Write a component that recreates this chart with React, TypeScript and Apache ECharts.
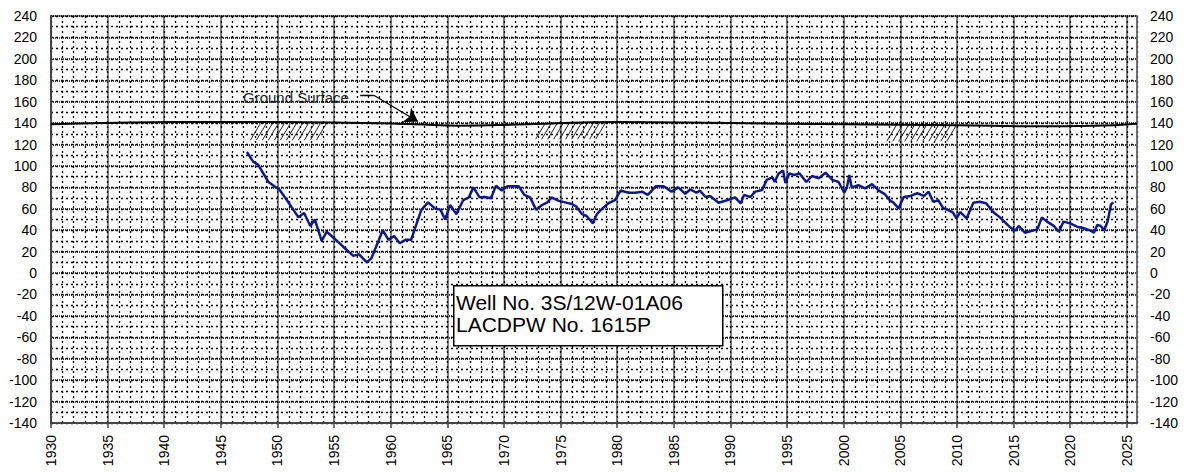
import React, { useEffect, useRef } from "react";
import * as echarts from "echarts";

const years: number[] = [
  1947.3, 1947.85, 1948.3, 1949.2, 1950.2, 1950.9, 1951.85, 1952.35, 1952.9, 1953.3,
  1953.9, 1954.35, 1954.9, 1955.8, 1956.7, 1957.2, 1957.9, 1958.3, 1959.3, 1959.8,
  1960.3, 1960.8, 1961.3, 1961.8, 1962.7, 1963.3, 1963.9, 1964.4, 1964.8, 1965.25,
  1965.8, 1966.4, 1966.9, 1967.3, 1967.85, 1968.3, 1968.85, 1969.3, 1969.8, 1970.3,
  1971.3, 1971.8, 1972.3, 1972.85, 1973.35, 1973.8, 1974.2, 1974.8, 1975.4, 1976.0,
  1976.4, 1976.9, 1977.3, 1977.85, 1978.2, 1978.7, 1979.2, 1979.8, 1980.3, 1981.0,
  1981.6, 1982.2, 1982.7, 1983.4, 1984.1, 1984.8, 1985.4, 1986.0, 1986.45, 1987.0,
  1987.3, 1987.8, 1988.2, 1988.95, 1989.7, 1990.4, 1990.9, 1991.2, 1991.75, 1992.2,
  1992.8, 1993.2, 1993.7, 1993.9, 1994.25, 1994.65, 1994.85, 1995.2, 1995.6, 1996.1,
  1996.7, 1997.2, 1997.8, 1998.4, 1999.0, 1999.55, 2000.05, 2000.3, 2000.5, 2000.7,
  2001.3, 2001.9, 2002.5, 2003.1, 2003.6, 2004.1, 2004.4, 2004.85, 2005.3, 2005.9,
  2006.5, 2007.1, 2007.5, 2007.9, 2008.35, 2008.8, 2009.2, 2009.65, 2009.95, 2010.3,
  2010.85, 2011.45, 2012.05, 2012.6, 2013.2, 2013.8, 2014.7, 2015.15, 2015.45, 2016.0,
  2016.8, 2017.1, 2017.5, 2017.95, 2018.55, 2019.0, 2019.4, 2020.0, 2020.6, 2021.2,
  2021.8, 2022.1, 2022.4, 2022.7, 2023.0, 2023.3, 2023.6, 2023.8,
];

const levels: number[] = [
  113, 104, 101, 85, 77.5, 67, 52, 56, 44, 50,
  30, 38.6, 33.4, 24.6, 16, 17.5, 10, 14, 40, 31,
  34.6, 27.8, 31, 31, 59, 66, 60.4, 59, 50, 63.5,
  55, 68, 70.7, 80, 70.7, 71, 69.8, 81.6, 77, 81,
  81, 73, 70.7, 59, 63.5, 65.7, 70.7, 67.6, 66, 64.5,
  62, 55, 53.3, 46.4, 55, 60.4, 65, 68, 77, 75,
  75, 76, 73, 81, 81, 76, 80, 74, 78, 75,
  77, 71, 72, 65.7, 68, 70.7, 65, 73, 71, 76,
  77.5, 87, 89.4, 85, 93, 95.6, 84, 93, 91.5, 93,
  85, 90.6, 88.5, 93.7, 87, 85, 75, 80.7, 91.5, 80,
  82, 79, 83, 77, 74, 67.6, 65.7, 60.4, 71, 72,
  74.5, 72, 76, 66.6, 68, 60.4, 59, 56.4, 51, 57,
  51, 65.7, 66.6, 65, 57, 52, 42.7, 39.6, 44, 37.7,
  40, 40.8, 52, 48, 44, 38.6, 48, 46.4, 43.3, 41.8,
  39.6, 37.7, 45, 44, 40, 48, 64, 66,
];

const groundYears: number[] = [1930, 1937, 1945, 1955, 1962, 1966, 1972, 1980, 1990, 2000, 2010, 2017, 2022, 2025.9];
const groundLevels: number[] = [139, 140.5, 141, 140.5, 139, 137.5, 139, 141, 140, 139, 138, 137, 137.5, 139.5];

// hatch areas: [startYear, endYear, topValue, bottomValue]
const hatchAreas: number[][] = [
  [1947.6, 1954.4, 139.5, 124],
  [1972.8, 1979.1, 140.5, 125],
  [2003.8, 2010.0, 138.5, 123],
];

// leader of the "Ground Surface" note: flat part, then arrow segment
const leaderFlat: number[][] = [[1957.3, 166], [1958.5, 166]];
const leaderArrow: number[][] = [[1958.5, 166], [1962.4, 141.5]];

const yMin = -140;
const yMax = 240;
const xMin = 1930;
const xMax = 2025.9;

const App: React.FC = () => {
  const ref = useRef<HTMLDivElement>(null);

  useEffect(() => {
    if (!ref.current) return;
    const chart = echarts.init(ref.current, undefined, { renderer: "svg" });
    const font = "Arial, 'Liberation Sans', sans-serif";

    const hatchRender = (params: any, api: any) => {
      const x0 = api.value(0);
      const x1 = api.value(1);
      const top = api.value(2);
      const bot = api.value(3);
      const pTopL = api.coord([x0, top]);
      const pBotL = api.coord([x0, bot]);
      const pR = api.coord([x1, top]);
      const h = pBotL[1] - pTopL[1];
      const dx = h * 0.6;
      const children: any[] = [];
      for (let x = pTopL[0]; x + dx <= pR[0]; x += 6) {
        children.push({
          type: "line",
          shape: { x1: x, y1: pBotL[1], x2: x + dx, y2: pTopL[1] },
          style: { stroke: "#222", lineWidth: 1 },
        });
      }
      return { type: "group", children };
    };

    chart.setOption({
      animation: false,
      backgroundColor: "#fff",
      grid: {
        left: 51,
        right: 64,
        top: 16,
        bottom: 52,
        show: true,
        borderColor: "#777",
        borderWidth: 1.5,
        backgroundColor: "#fff",
        containLabel: false,
        outerBoundsMode: "none",
      },
      xAxis: [
        {
          type: "value",
          min: xMin,
          max: xMax,
          interval: 5,
          position: "bottom",
          axisLine: { show: true, onZero: false, lineStyle: { color: "#444", width: 2 } },
          axisTick: { show: true, length: 5, lineStyle: { color: "#444", width: 1.5 } },
          axisLabel: {
            rotate: 90,
            fontSize: 14,
            fontFamily: font,
            color: "#000",
            margin: 12,
            showMaxLabel: false,
            formatter: (v: number) => (Math.abs(v / 5 - Math.round(v / 5)) < 1e-6 ? String(Math.round(v)) : ""),
          },
          splitLine: { show: true, lineStyle: { color: "#555", width: 1.5, type: "solid" } },
        },
        {
          type: "value",
          min: xMin,
          max: xMax,
          interval: 1,
          position: "bottom",
          axisLine: { show: false },
          axisTick: { show: false },
          axisLabel: { show: false },
          splitLine: { show: true, lineStyle: { color: "#000", width: 1.3, type: [2, 3] } },
        },
      ],
      yAxis: [
        {
          type: "value",
          min: yMin,
          max: yMax,
          interval: 20,
          position: "left",
          axisLine: { show: true, lineStyle: { color: "#444", width: 2 } },
          axisTick: { show: false },
          axisLabel: { fontSize: 14, fontFamily: font, color: "#000", margin: 14 },
          splitLine: { show: true, lineStyle: { color: "#000", width: 1.5, type: [1, 1] } },
        },
        {
          type: "value",
          min: yMin,
          max: yMax,
          interval: 20,
          position: "right",
          axisLine: { show: true, lineStyle: { color: "#777", width: 1.5 } },
          axisTick: { show: false },
          axisLabel: { fontSize: 14, fontFamily: font, color: "#000", margin: 13 },
          splitLine: { show: false },
        },
        {
          type: "value",
          min: yMin,
          max: yMax,
          interval: 10,
          show: true,
          axisLine: { show: false },
          axisTick: { show: false },
          axisLabel: { show: false },
          splitLine: { show: true, lineStyle: { color: "#000", width: 1.3, type: [2, 3] } },
        },
      ],
      series: [
        {
          type: "line",
          name: "Ground Surface",
          data: groundYears.map((y, i) => [y, groundLevels[i]]),
          smooth: true,
          showSymbol: false,
          lineStyle: { color: "#000", width: 2 },
          z: 5,
        },
        {
          type: "custom",
          name: "hatch",
          renderItem: hatchRender,
          data: hatchAreas,
          encode: { x: [0, 1], y: [2, 3] },
          z: 4,
        },
        {
          type: "line",
          name: "Water Level",
          data: years.map((y, i) => [y, levels[i]]),
          showSymbol: false,
          lineStyle: { color: "#0f1a8a", width: 2.5 },
          z: 6,
        },
        {
          type: "lines",
          coordinateSystem: "cartesian2d",
          symbol: ["none", "none"],
          lineStyle: { color: "#000", width: 1.3, opacity: 1 },
          data: [{ coords: leaderFlat }],
          z: 7,
        },
        {
          type: "lines",
          coordinateSystem: "cartesian2d",
          symbol: ["none", "arrow"],
          symbolSize: [9, 13],
          itemStyle: { color: "#000" },
          lineStyle: { color: "#000", width: 1.3, opacity: 1 },
          data: [{ coords: leaderArrow }],
          z: 7,
        },
      ],
      graphic: [
        {
          type: "text",
          left: 243,
          top: 90,
          z: 100,
          style: { text: "Ground Surface", font: `15px ${font}`, fill: "#222" },
        },
        {
          type: "rect",
          left: 453,
          top: 285,
          z: 100,
          shape: { x: 0, y: 0, width: 269, height: 60 },
          style: { fill: "#fff", stroke: "#000", lineWidth: 1.5 },
        },
        {
          type: "text",
          left: 456,
          top: 292,
          z: 101,
          style: { text: "Well No. 3S/12W-01A06", font: `21px ${font}`, fill: "#000" },
        },
        {
          type: "text",
          left: 456,
          top: 314,
          z: 101,
          style: { text: "LACDPW No. 1615P", font: `21px ${font}`, fill: "#000" },
        },
      ],
    });

    return () => chart.dispose();
  }, []);

  return (
    <div
      ref={ref}
      style={{ position: "fixed", left: 0, top: 0, width: 1201, height: 475, background: "#fff" }}
    />
  );
};

export default App;
